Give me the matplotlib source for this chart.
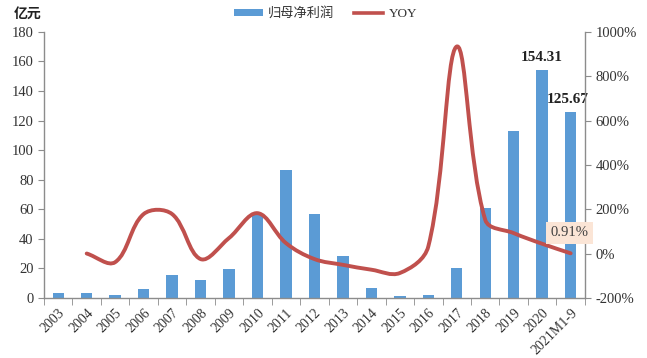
import matplotlib.pyplot as plt
from matplotlib.path import Path
from matplotlib.patches import PathPatch
from matplotlib.lines import Line2D
from matplotlib.patches import Patch

plt.rcParams['font.family'] = ['Liberation Serif', 'Noto Sans CJK SC']

years = ['2003', '2004', '2005', '2006', '2007', '2008', '2009', '2010', '2011', '2012',
         '2013', '2014', '2015', '2016', '2017', '2018', '2019', '2020', '2021M1-9']
profit = [3.2, 3.1, 1.8, 6.0, 15.5, 12.0, 19.4, 56.0, 86.5, 56.6,
          28.4, 6.5, 1.3, 1.8, 20.5, 61.1, 113.0, 154.31, 125.67]
# YOY starts from 2004
yoy = [0, -39, 178, 178, -25, 70, 182, 47, -25,
       -51, -73, -88, 32, 934, 152, 92, 44, 0.91]

bar_color = '#5b9bd5'
line_color = '#c0504d'
grey = '#8c8c8c'

fig = plt.figure(figsize=(6.47, 3.58), dpi=100)
ax = fig.add_axes([0.068, 0.168, 0.836, 0.743])
ax2 = ax.twinx()

x = list(range(len(years)))
ax.bar(x, profit, width=0.4, color=bar_color, zorder=2)
ax.set_xlim(-0.5, len(years) - 0.5)
ax.set_ylim(0, 180)
ax.set_yticks(range(0, 181, 20))
ax2.set_ylim(-200, 1000)
ax2.set_yticks(range(-200, 1001, 200))
ax2.set_yticklabels([f'{v}%' for v in range(-200, 1001, 200)])


def smooth_path(axis, xs, ys, s=0.36):
    # spreadsheet-style smoothing: handle lengths follow the neighbouring
    # segment lengths measured on screen
    tr = axis.transData
    inv = tr.inverted()
    p = [tuple(tr.transform((a, b))) for a, b in zip(xs, ys)]
    n = len(p)

    def dist(a, b):
        return ((a[0] - b[0]) ** 2 + (a[1] - b[1]) ** 2) ** 0.5

    out_c, in_c = [], []
    for i in range(n):
        prv = p[i - 1] if i > 0 else p[i]
        nxt = p[i + 1] if i < n - 1 else p[i]
        tx, ty = nxt[0] - prv[0], nxt[1] - prv[1]
        d0 = dist(prv, p[i])
        d1 = dist(p[i], nxt)
        tot = d0 + d1 if d0 + d1 > 0 else 1
        out_c.append((p[i][0] + tx * s * d1 / tot, p[i][1] + ty * s * d1 / tot))
        in_c.append((p[i][0] - tx * s * d0 / tot, p[i][1] - ty * s * d0 / tot))
    verts = [p[0]]
    codes = [Path.MOVETO]
    for i in range(n - 1):
        verts += [out_c[i], in_c[i + 1], p[i + 1]]
        codes += [Path.CURVE4] * 3
    verts = [tuple(inv.transform(v)) for v in verts]
    return Path(verts, codes)


fig.canvas.draw()
ax2.add_patch(PathPatch(smooth_path(ax2, x[1:], yoy), facecolor='none', edgecolor=line_color,
                        lw=2.8, capstyle='round', joinstyle='round', zorder=3))

for a in (ax, ax2):
    a.spines['top'].set_visible(False)
    for s in ('left', 'right', 'bottom'):
        a.spines[s].set_color(grey)
        a.spines[s].set_linewidth(1.0)
ax.spines['right'].set_visible(False)
ax2.spines['left'].set_visible(False)
ax2.spines['bottom'].set_visible(False)

ax.set_xticks(x)
ax.set_xticklabels(years, rotation=45, ha='right', rotation_mode='anchor')
ax.set_xticks([i - 0.5 for i in range(len(years) + 1)], minor=True)
ax.tick_params(axis='x', which='major', length=0, pad=6, labelsize=10, labelcolor='#333333')
ax.tick_params(axis='x', which='minor', length=5, color=grey, direction='out')
ax.tick_params(axis='y', length=4, color=grey, labelsize=10.5, labelcolor='#333333')
ax2.tick_params(axis='y', length=4, color=grey, labelsize=10.5, labelcolor='#333333')

# value labels for the last two bars
for i in (17, 18):
    ax.text(x[i] - (0.0 if i == 17 else 0.1), profit[i] + 4, f'{profit[i]:.2f}',
            ha='center', va='bottom', fontsize=11, fontweight='bold', color='#222222')

ax2.text(x[-1] - 0.05, yoy[-1] + 92, f'{yoy[-1]:.2f}%', ha='center', va='center',
         fontsize=10.5, color='#404040', zorder=5, clip_on=False,
         bbox=dict(boxstyle='square,pad=0.3', facecolor='#fbe5d6', edgecolor='none'))

fig.text(0.022, 0.962, '亿元', fontsize=10, fontweight='bold', family='Noto Sans CJK SC',
         ha='left', va='center', color='#222222')

handles = [Patch(facecolor=bar_color, edgecolor='none'),
           Line2D([0], [0], color=line_color, lw=2.6)]
leg = fig.legend(handles, ['归母净利润', 'YOY'], loc='center', bbox_to_anchor=(0.503, 0.962),
                 ncol=2, frameon=False, fontsize=9.5, handlelength=2.2, handleheight=0.5,
                 columnspacing=1.5, handletextpad=0.4)
for t in leg.get_texts():
    t.set_color('#333333')

fig.savefig('out.png', dpi=100)
